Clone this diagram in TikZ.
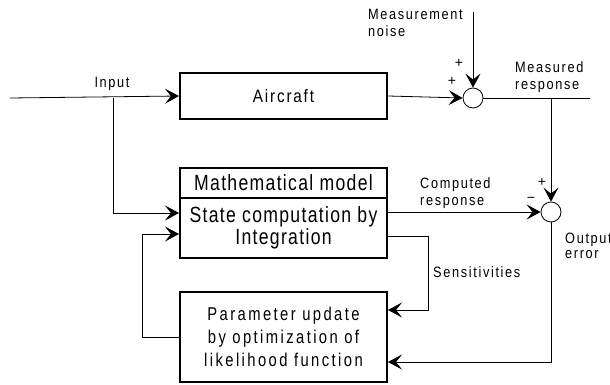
\documentclass[tikz,border=0pt]{standalone}
\usepackage{fontspec}
\setmainfont{Liberation Sans}
\newfontfamily\lblf[FakeStretch=0.85,LetterSpace=11]{Liberation Sans}
\newfontfamily\acf[FakeStretch=0.85,LetterSpace=10]{Liberation Sans}
\newfontfamily\mmf[FakeStretch=0.8,LetterSpace=6]{Liberation Sans}
\newfontfamily\puf[FakeStretch=0.8,LetterSpace=13]{Liberation Sans}
\usetikzlibrary{arrows.meta}
\begin{document}
\begin{tikzpicture}[x=1pt,y=-1pt,
  box/.style={draw, line width=2pt, inner sep=0pt, minimum width=207pt},
  conn/.style={line width=0.8pt},
  sumj/.style={circle, draw, line width=0.8pt, minimum size=20pt, inner sep=0pt},
  lbl/.style={inner sep=0pt, font=\lblf\fontsize{15}{17}\selectfont},
  sgn/.style={inner sep=0pt, font=\fontsize{14}{14}\selectfont},
  >={Stealth[length=14pt,width=15pt,inset=6pt]}]
\useasboundingbox (0,0) rectangle (610,385);
% boxes
\node[box, minimum height=46pt, font=\acf\fontsize{18}{20}\selectfont] (ac) at (283.5,96) {Aircraft};
\node[box, minimum height=30pt, font=\mmf\fontsize{22}{24}\selectfont] (mm) at (283.5,183) {Mathematical model};
\node[box, minimum height=60pt, align=center, font=\mmf\fontsize{22}{22}\selectfont] (st) at (283.5,228) {State computation by\\Integration};
\node[box, minimum height=90pt, align=center, font=\puf\fontsize{18.5}{23}\selectfont] (pu) at (283.5,337) {Parameter update\\by optimization of\\likelihood function};
% summing junctions
\node[sumj] (s1) at (473,98) {};
\node[sumj] (s2) at (551,212) {};
% coordinates
\coordinate (in0) at (10,98);
\coordinate (br) at (113,98);
\coordinate (nz) at (473,12);
\coordinate (mr) at (590,98);
\coordinate (br2) at (551,98);
% connectors
\draw[conn,->] (in0) -- (ac.west);
\draw[conn,->] (br) |- ([yshift=15pt]st.west);
\draw[conn,->] (pu.west) -- ++(-37,0) |- ([yshift=-6pt]st.west);
\draw[conn,->] (ac.east) -- (s1.west);
\draw[conn,->] (nz) -- (s1.north);
\draw[conn] (s1.east) -- (mr);
\draw[conn,->] (br2) -- (s2.north);
\draw[conn,->] ([yshift=16pt]st.east) -- (s2.west);
\draw[conn,->] ([yshift=-8pt]st.east) -- ++(40,0) |- ([yshift=27pt]pu.east);
\draw[conn,->] (s2.south) |- ([yshift=-25pt]pu.east);
% labels
\node[lbl, anchor=base] (lin) at (112,88) {Input};
\node[lbl, anchor=base west, align=left] (lnz) at (368,37) {Measurement\\noise};
\node[lbl, anchor=base west, align=left] (lmr) at (515,90) {Measured\\response};
\node[lbl, anchor=base west, align=left] (lcr) at (420,205) {Computed\\response};
\node[lbl, anchor=base west, align=left, font=\lblf\fontsize{15}{14.5}\selectfont] (loe) at (565,258) {Output\\error};
\node[lbl, anchor=base west] (lse) at (433,277) {Sensitivities};
\node[sgn] (p1) at (459,63) {+};
\node[sgn] (p2) at (452,81) {+};
\node[sgn] (p3) at (542,182) {+};
\node[sgn] (m1) at (531,200) {−};
\end{tikzpicture}
\end{document}
